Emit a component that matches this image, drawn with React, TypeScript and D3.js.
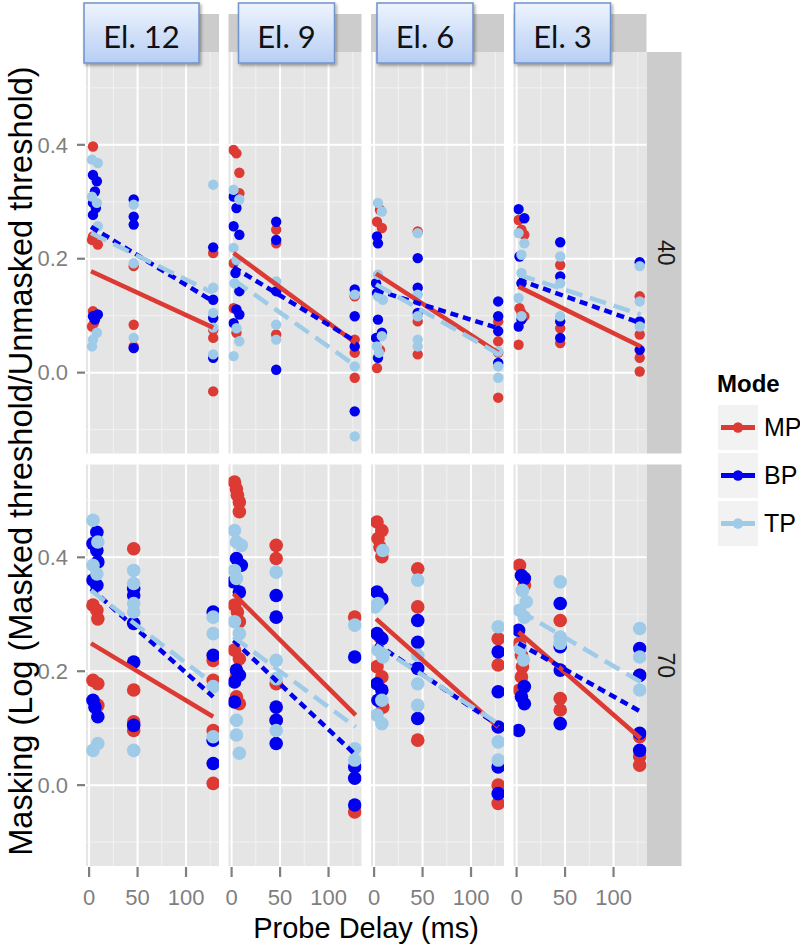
import React from "react";
import * as d3 from "d3";

const electrodes = ["El. 12", "El. 9", "El. 6", "El. 3"];
const levels = ["40", "70"];
const modes = ["MP", "BP", "TP"];
const modeColors = ["#dc3a33", "#0000ee", "#9fcbe8"];
const modeDash = [null, "8,5", "17,8"];
const xTicks = [0, 50, 100];
const xMinor = [25, 75, 125];
const yTicks = [0, 0.2, 0.4];
const yMinor = [-0.1, 0.1, 0.3, 0.5];

// points: [probe delay (ms), masking]
const p40_12_MP = [[4,0.397],[4,0.239],[9,0.225],[3,0.233],[4,0.108],[6,0.099],[5,0.087],[3,0.081],[46,0.187],[46,0.084],[46,0.046],[128,0.21],[128,0.075],[128,0.061],[128,-0.033]];
const p40_12_BP = [[4,0.347],[8,0.336],[6,0.318],[4,0.298],[7,0.289],[4,0.277],[4,0.099],[9,0.102],[6,0.093],[46,0.304],[46,0.274],[46,0.26],[46,0.043],[128,0.22],[128,0.128],[128,0.096],[128,0.026]];
const p40_12_TP = [[3,0.374],[9,0.368],[3,0.309],[8,0.298],[9,0.257],[8,0.07],[4,0.058],[3,0.046],[46,0.295],[46,0.192],[46,0.061],[128,0.33],[128,0.149],[128,0.105],[128,0.079],[128,0.032]];

const p40_9_MP = [[2,0.391],[5,0.385],[8,0.351],[8,0.315],[2,0.192],[2,0.113],[5,0.07],[46,0.251],[46,0.227],[46,0.067],[127,0.134],[127,0.058],[127,0.035],[127,-0.009]];
const p40_9_BP = [[2,0.309],[5,0.289],[2,0.257],[8,0.242],[4,0.175],[8,0.143],[5,0.111],[8,0.102],[2,0.087],[46,0.265],[46,0.233],[46,0.143],[46,0.005],[127,0.146],[127,0.099],[127,0.046],[127,-0.068]];
const p40_9_TP = [[2,0.321],[8,0.304],[2,0.219],[5,0.198],[3,0.157],[5,0.078],[8,0.055],[2,0.029],[46,0.16],[46,0.084],[46,0.058],[127,0.137],[127,0.011],[127,-0.112]];

const p40_6_MP = [[6,0.286],[3,0.265],[8,0.254],[6,0.04],[3,0.008],[45,0.248],[45,0.09],[45,0.032],[128,0.09],[128,0.055],[128,0.035],[128,-0.044]];
const p40_6_BP = [[3,0.239],[4,0.227],[2,0.157],[3,0.14],[4,0.093],[8,0.07],[2,0.061],[4,0.026],[45,0.201],[45,0.149],[45,0.105],[128,0.125],[128,0.099],[128,0.073],[128,0.017]];
const p40_6_TP = [[4,0.298],[8,0.283],[4,0.172],[4,0.134],[9,0.128],[8,0.064],[3,0.046],[5,0.035],[45,0.245],[45,0.137],[45,0.099],[45,0.058],[45,0.046],[128,0.037],[128,0.011],[128,-0.009]];

const p40_3_MP = [[2,0.268],[5,0.251],[8,0.242],[3,0.113],[5,0.105],[8,0.099],[2,0.049],[45,0.189],[45,0.078],[45,0.052],[127,0.134],[127,0.067],[127,0.026],[127,0.002]];
const p40_3_BP = [[2,0.287],[8,0.271],[3,0.204],[5,0.157],[5,0.093],[2,0.081],[45,0.229],[45,0.169],[45,0.09],[45,0.061],[127,0.194],[127,0.09],[127,0.04]];
const p40_3_TP = [[2,0.245],[8,0.227],[5,0.207],[5,0.175],[2,0.131],[5,0.099],[45,0.204],[45,0.157],[45,0.099],[127,0.187],[127,0.125],[127,0.081]];

const p70_12_MP = [[4,0.316],[8,0.307],[9,0.292],[4,0.184],[9,0.178],[9,0.14],[46,0.415],[46,0.167],[46,0.111],[46,0.096],[128,0.219],[128,0.184],[128,0.096],[128,0.003]];
const p70_12_BP = [[8,0.444],[4,0.424],[8,0.412],[9,0.392],[4,0.36],[8,0.351],[4,0.149],[6,0.137],[9,0.12],[46,0.345],[46,0.333],[46,0.284],[46,0.216],[46,0.105],[128,0.304],[128,0.228],[128,0.079],[128,0.038]];
const p70_12_TP = [[4,0.465],[9,0.427],[4,0.386],[8,0.371],[9,0.073],[4,0.061],[46,0.377],[46,0.354],[46,0.319],[46,0.304],[46,0.061],[128,0.295],[128,0.266],[128,0.173],[128,0.085]];

const p70_9_MP = [[3,0.532],[5,0.52],[6,0.509],[8,0.497],[8,0.48],[3,0.316],[6,0.304],[8,0.287],[3,0.237],[8,0.222],[5,0.19],[5,0.155],[8,0.143],[46,0.421],[46,0.398],[46,0.178],[46,0.114],[127,0.295],[127,-0.047]];
const p70_9_BP = [[5,0.398],[10,0.386],[2,0.357],[8,0.339],[5,0.202],[8,0.193],[3,0.181],[3,0.146],[46,0.333],[46,0.295],[46,0.137],[46,0.114],[46,0.073],[127,0.225],[127,0.032],[127,0.012],[127,-0.035]];
const p70_9_TP = [[3,0.447],[5,0.427],[10,0.421],[3,0.377],[5,0.363],[3,0.287],[8,0.266],[5,0.114],[5,0.088],[8,0.056],[46,0.374],[46,0.219],[46,0.187],[46,0.096],[127,0.281],[127,0.064],[127,0.044]];

const p70_6_MP = [[3,0.462],[8,0.447],[4,0.433],[6,0.418],[8,0.401],[6,0.26],[3,0.208],[8,0.19],[9,0.137],[45,0.38],[45,0.313],[45,0.079],[128,0.257],[128,0.211],[128,0.0],[128,-0.032]];
const p70_6_BP = [[3,0.339],[8,0.327],[3,0.266],[8,0.257],[3,0.178],[8,0.167],[4,0.149],[45,0.289],[45,0.251],[45,0.205],[45,0.117],[128,0.234],[128,0.164],[128,0.102],[128,0.032],[128,-0.015]];
const p70_6_TP = [[9,0.412],[4,0.319],[1,0.313],[4,0.237],[9,0.225],[8,0.149],[3,0.123],[8,0.108],[45,0.36],[45,0.228],[45,0.178],[45,0.14],[128,0.278],[128,0.076],[128,0.044]];

const p70_3_MP = [[3,0.386],[8,0.351],[3,0.249],[5,0.228],[6,0.208],[5,0.19],[3,0.167],[45,0.289],[45,0.152],[45,0.132],[127,0.193],[127,0.085],[127,0.05],[127,0.035]];
const p70_3_BP = [[5,0.368],[8,0.363],[2,0.272],[8,0.173],[5,0.155],[8,0.143],[2,0.096],[45,0.319],[45,0.243],[45,0.202],[45,0.108],[127,0.24],[127,0.193],[127,0.091],[127,0.061]];
const p70_3_TP = [[6,0.342],[10,0.322],[3,0.307],[8,0.295],[4,0.24],[7,0.22],[45,0.357],[45,0.26],[45,0.249],[127,0.275],[127,0.225],[127,0.167]];

// linear fit lines: [value at first delay, value at last delay], per electrode
const fitX = [2, 128];
const fit40_MP = [[0.178, 0.079], [0.21, 0.052], [0.174, 0.035], [0.151, 0.046]];
const fit40_BP = [[0.256, 0.125], [0.185, 0.055], [0.145, 0.078], [0.163, 0.087]];
const fit40_TP = [[0.245, 0.14], [0.163, 0.012], [0.155, 0.033], [0.172, 0.102]];
const fit70_MP = [[0.249, 0.12], [0.336, 0.123], [0.292, 0.102], [0.269, 0.082]];
const fit70_BP = [[0.345, 0.155], [0.254, 0.053], [0.249, 0.105], [0.249, 0.129]];
const fit70_TP = [[0.342, 0.178], [0.26, 0.102], [0.246, 0.108], [0.307, 0.181]];

const pointSets = [
  [[p40_12_MP, p40_12_BP, p40_12_TP], [p40_9_MP, p40_9_BP, p40_9_TP], [p40_6_MP, p40_6_BP, p40_6_TP], [p40_3_MP, p40_3_BP, p40_3_TP]],
  [[p70_12_MP, p70_12_BP, p70_12_TP], [p70_9_MP, p70_9_BP, p70_9_TP], [p70_6_MP, p70_6_BP, p70_6_TP], [p70_3_MP, p70_3_BP, p70_3_TP]],
];
const fitSets = [
  [fit40_MP, fit40_BP, fit40_TP],
  [fit70_MP, fit70_BP, fit70_TP],
];

// layout
const colLeft = [86, 228.5, 371, 513.5];
const panelW = 133;
const rowTop = [52, 464.5];
const panelH = 401.5;
const boxOffset = [-2, 10, 6, 1];
const boxW = [115, 96, 96, 96];
const pointR = [5.2, 6.8];
const FONT = "'Liberation Sans', Arial, Helvetica, sans-serif";

export default function App() {
  const x = d3.scaleLinear().domain([-3.2, 134]).range([0, panelW]);
  const y = d3.scaleLinear().domain([-0.142, 0.563]).range([panelH, 0]);
  const line = d3.line<number[]>().x((d) => x(d[0])).y((d) => y(d[1]));
  const fmt = d3.format(".1f");

  return (
    <svg width={800} height={950} style={{ display: "block", position: "absolute", left: 0, top: 0 }} fontFamily={FONT}>
      <defs>
        <linearGradient id="boxGrad" x1="0" y1="0" x2="0" y2="1">
          <stop offset="0%" stopColor="#eef4fe" />
          <stop offset="100%" stopColor="#b7cef3" />
        </linearGradient>
        <filter id="shadow" x="-10%" y="-10%" width="130%" height="130%">
          <feDropShadow dx="1.5" dy="2" stdDeviation="1.5" floodColor="#000" floodOpacity="0.35" />
        </filter>
        {levels.map((lv, r) =>
          colLeft.map((cl, c) => (
            <clipPath id={`clip-${r}-${c}`} key={`cp-${r}-${c}`}>
              <rect x={0} y={0} width={panelW} height={panelH} />
            </clipPath>
          ))
        )}
      </defs>
      <rect x={0} y={0} width={800} height={950} fill="#ffffff" />

      {/* top strips */}
      {colLeft.map((cl, c) => (
        <rect key={`ts-${c}`} x={cl} y={14} width={panelW} height={38} fill="#cccccc" />
      ))}

      {/* right strips */}
      {levels.map((lv, r) => (
        <g key={`rs-${r}`}>
          <rect x={colLeft[3] + panelW} y={rowTop[r]} width={35} height={panelH} fill="#cccccc" />
          <text
            transform={`translate(${colLeft[3] + panelW + 11}, ${rowTop[r] + panelH / 2}) rotate(90)`}
            textAnchor="middle"
            fontSize={23}
            fill="#1a1a1a"
          >
            {lv}
          </text>
        </g>
      ))}

      {levels.map((lv, r) =>
        colLeft.map((cl, c) => (
          <g key={`p-${r}-${c}`} transform={`translate(${cl}, ${rowTop[r]})`}>
            <rect x={0} y={0} width={panelW} height={panelH} fill="#e5e5e5" />
            {yMinor.map((t) => (
              <line key={`ym${t}`} x1={0} x2={panelW} y1={y(t)} y2={y(t)} stroke="#f2f2f2" strokeWidth={1} />
            ))}
            {xMinor.map((t) => (
              <line key={`xm${t}`} x1={x(t)} x2={x(t)} y1={0} y2={panelH} stroke="#f2f2f2" strokeWidth={1} />
            ))}
            {yTicks.map((t) => (
              <line key={`yM${t}`} x1={0} x2={panelW} y1={y(t)} y2={y(t)} stroke="#ffffff" strokeWidth={2} />
            ))}
            {xTicks.map((t) => (
              <line key={`xM${t}`} x1={x(t)} x2={x(t)} y1={0} y2={panelH} stroke="#ffffff" strokeWidth={2} />
            ))}
            <g clipPath={`url(#clip-${r}-${c})`}>
              {modes.map((m, mi) =>
                pointSets[r][c][mi].map((d, i) => (
                  <circle key={`pt-${mi}-${i}`} cx={x(d[0])} cy={y(d[1])} r={pointR[r]} fill={modeColors[mi]} />
                ))
              )}
              {modes.map((m, mi) => {
                const f = fitSets[r][mi][c];
                const pts = [
                  [fitX[0], f[0]],
                  [fitX[1], f[1]],
                ];
                return (
                  <path
                    key={`fit-${mi}`}
                    d={line(pts) || ""}
                    fill="none"
                    stroke={modeColors[mi]}
                    strokeWidth={4.5}
                    strokeDasharray={modeDash[mi] || undefined}
                  />
                );
              })}
            </g>
          </g>
        ))
      )}

      {/* y axis ticks & labels */}
      {levels.map((lv, r) =>
        yTicks.map((t) => (
          <g key={`yt-${r}-${t}`}>
            <line x1={colLeft[0] - 9} x2={colLeft[0] - 1} y1={rowTop[r] + y(t)} y2={rowTop[r] + y(t)} stroke="#7f7f7f" strokeWidth={2.2} />
            <text x={colLeft[0] - 18} y={rowTop[r] + y(t)} dy="0.35em" textAnchor="end" fontSize={22} fill="#7f7f7f">
              {fmt(t)}
            </text>
          </g>
        ))
      )}

      {/* x axis ticks & labels */}
      {colLeft.map((cl, c) =>
        xTicks.map((t) => (
          <g key={`xt-${c}-${t}`}>
            <line x1={cl + x(t)} x2={cl + x(t)} y1={rowTop[1] + panelH + 1} y2={rowTop[1] + panelH + 11} stroke="#7f7f7f" strokeWidth={2.2} />
            <text x={cl + x(t)} y={905} textAnchor="middle" fontSize={22} fill="#7f7f7f">
              {t}
            </text>
          </g>
        ))
      )}

      {/* axis titles */}
      <text x={366} y={938} textAnchor="middle" fontSize={29} fill="#000">
        Probe Delay (ms)
      </text>
      <text transform="translate(32, 461) rotate(-90)" textAnchor="middle" fontSize={32.5} fill="#000">
        Masking (Log (Masked threshold/Unmasked threshold)
      </text>

      {/* electrode label boxes */}
      {electrodes.map((e, c) => (
        <g key={`box-${c}`}>
          <rect
            x={colLeft[c] + boxOffset[c]}
            y={3}
            width={boxW[c]}
            height={60}
            fill="url(#boxGrad)"
            stroke="#6f93cc"
            strokeWidth={1.5}
            filter="url(#shadow)"
          />
          <text
            x={colLeft[c] + boxOffset[c] + boxW[c] / 2}
            y={48}
            textAnchor="middle"
            fontSize={31}
            fontFamily="Lato, 'Open Sans', sans-serif"
            fill="#111"
          >
            {e}
          </text>
        </g>
      ))}

      {/* legend */}
      <text x={717} y={392} fontSize={24} fontWeight="bold" fill="#000">
        Mode
      </text>
      {modes.map((m, mi) => {
        const top = 405 + mi * 48;
        return (
          <g key={`lg-${m}`}>
            <rect x={718} y={top} width={40} height={45} fill="#f2f2f2" />
            <line x1={721} x2={755} y1={top + 22.5} y2={top + 22.5} stroke={modeColors[mi]} strokeWidth={5} />
            <circle cx={738} cy={top + 22.5} r={5.2} fill={modeColors[mi]} />
            <text x={764} y={top + 31} fontSize={25} fill="#000">
              {m}
            </text>
          </g>
        );
      })}
    </svg>
  );
}
